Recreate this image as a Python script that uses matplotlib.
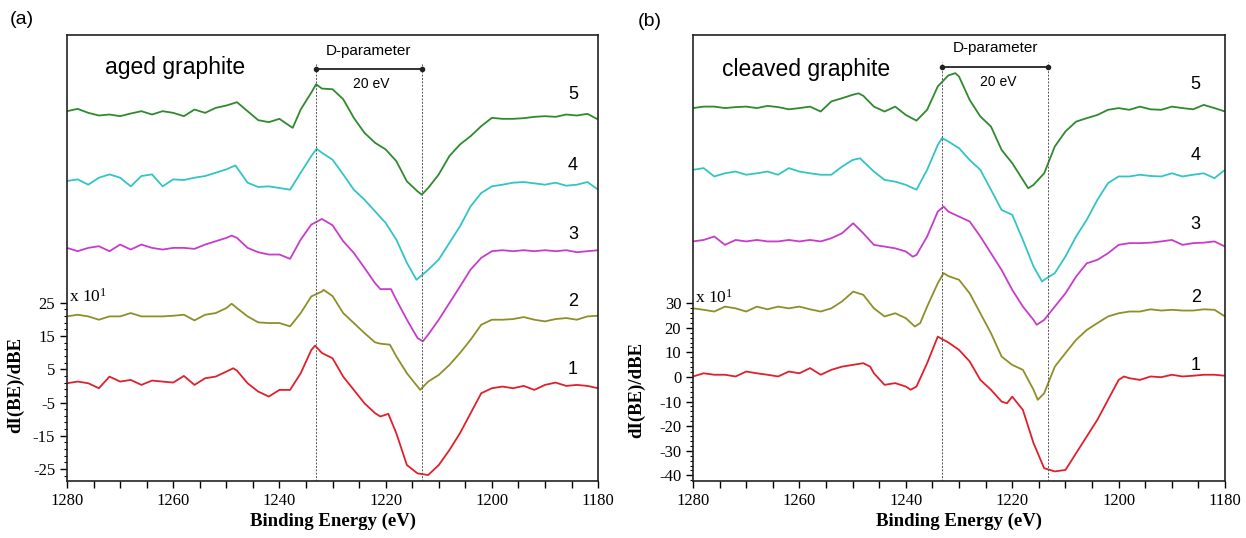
import matplotlib
matplotlib.use('Agg')
import matplotlib.pyplot as plt
from matplotlib.ticker import FixedLocator

plt.rcParams['mathtext.fontset'] = 'custom'
plt.rcParams['mathtext.rm'] = 'Liberation Serif'
plt.rcParams['mathtext.it'] = 'Liberation Serif:italic'
plt.rcParams['axes.unicode_minus'] = False

# ---------------- data: panel (a) aged graphite (values in units of 10^1) ----------------
a1_E = [1280, 1278, 1276, 1274, 1272, 1270, 1268, 1266, 1264, 1262, 1260, 1258, 1256, 1254, 1252, 1250, 1248.7, 1248,
        1246, 1244, 1242, 1240, 1238, 1236, 1234, 1233.3, 1232, 1230, 1228, 1226, 1224, 1222, 1221, 1219.5, 1218, 1216,
        1214, 1212, 1210, 1208, 1206, 1204, 1202, 1200, 1198, 1196, 1194, 1192, 1190, 1188, 1186, 1184, 1182, 1180]
a1_V = [0.8, 1.3, 0.8, -0.7, 2.8, 1.3, 1.8, 0.3, 1.6, 1.3, 1.0, 3.0, 0.3, 2.3, 2.8, 4.3, 5.3, 4.6,
        0.8, -1.7, -3.2, -1.2, -1.2, 3.8, 10.8, 12.1, 9.9, 8.3, 2.8, -1.2, -5.2, -8.2, -9.2, -8.4, -14.2, -23.8,
        -26.3, -26.8, -23.8, -19.3, -14.2, -8.2, -2.2, -0.7, -0.2, -0.7, 0.0, -1.2, 0.3, 1.0, 0.0, 0.3, 0.0, -0.7]

a2_E = [1280, 1278, 1276, 1274, 1272, 1270, 1268, 1266, 1264, 1262, 1260, 1258, 1256, 1254, 1252, 1250, 1249, 1248,
        1246, 1244, 1242, 1240, 1238, 1236, 1234, 1232, 1231.7, 1230, 1228, 1226, 1224, 1222, 1221, 1219.2, 1218, 1216,
        1214, 1213.5, 1212, 1210, 1208, 1206, 1204, 1202, 1200, 1198, 1196, 1194, 1192, 1190, 1188, 1186, 1184, 1182, 1180]
a2_V = [20.9, 21.4, 20.9, 19.9, 20.9, 20.9, 21.9, 20.9, 20.9, 20.9, 21.1, 21.4, 19.7, 21.4, 21.9, 23.4, 24.7, 23.4,
        20.9, 19.1, 18.9, 18.9, 17.9, 21.9, 26.9, 28.4, 28.9, 27.0, 21.9, 18.9, 15.9, 13.1, 12.7, 12.4, 8.9, 3.8,
        -0.2, -1.2, 1.3, 3.3, 6.3, 9.9, 13.9, 18.4, 19.9, 19.9, 20.1, 20.7, 19.9, 19.4, 20.1, 20.4, 19.9, 20.9, 21.1]

a3_E = [1280, 1278, 1276, 1274, 1272, 1270, 1268, 1266, 1264, 1262, 1260, 1258, 1256, 1254, 1252, 1250, 1249, 1248,
        1246, 1244, 1242, 1240, 1238, 1236, 1234, 1232, 1230, 1228, 1226, 1224, 1222, 1221, 1219, 1218, 1216,
        1214, 1213, 1212, 1210, 1208, 1206, 1204, 1202, 1200, 1198, 1196, 1194, 1192, 1190, 1188, 1186, 1184, 1182, 1180]
a3_V = [41.5, 40.5, 41.5, 42.0, 40.5, 42.5, 41.0, 42.5, 41.5, 41.0, 41.5, 41.5, 41.2, 42.5, 43.5, 44.5, 45.2, 44.5,
        41.5, 40.2, 39.5, 39.5, 38.2, 44.0, 48.5, 50.2, 48.3, 43.5, 40.0, 35.5, 30.9, 29.1, 29.1, 25.9, 19.9,
        14.4, 13.4, 15.4, 19.9, 24.9, 29.9, 35.0, 38.5, 40.5, 40.8, 40.5, 40.8, 40.5, 40.8, 40.5, 40.8, 40.2, 40.5, 40.8]

a4_E = [1280, 1278, 1276, 1274, 1272, 1270, 1268, 1266, 1264, 1262, 1260, 1258, 1256, 1254, 1252, 1250, 1248.3,
        1246, 1244, 1242, 1240, 1238, 1236, 1234, 1233, 1232, 1230, 1228, 1226, 1224, 1222, 1220, 1218, 1216,
        1214.2, 1212, 1210, 1208, 1206, 1204, 1202, 1200, 1198, 1196, 1194, 1192, 1190, 1188, 1186, 1184, 1182, 1180]
a4_V = [61.6, 62.1, 60.5, 62.6, 63.6, 62.6, 60.0, 63.1, 63.6, 60.0, 62.1, 61.9, 62.6, 63.1, 64.1, 65.1, 66.3,
        61.1, 59.8, 60.0, 59.5, 59.0, 64.1, 69.1, 71.3, 70.1, 68.0, 63.6, 59.0, 56.0, 52.5, 49.0, 44.0, 37.0,
        31.9, 34.9, 38.0, 43.0, 48.0, 54.0, 58.0, 60.0, 60.5, 61.1, 61.3, 60.9, 60.5, 61.1, 60.2, 60.5, 61.3, 59.0]

a5_E = [1280, 1278, 1276, 1274, 1272, 1270, 1268, 1266, 1264, 1262, 1260, 1258, 1256, 1254, 1252, 1250, 1248,
        1246, 1244, 1242, 1240, 1238, 1237.5, 1236, 1234, 1233.1, 1232, 1230, 1228, 1226, 1224, 1222, 1220, 1218,
        1216, 1214, 1213.2, 1212, 1210, 1208, 1206, 1204, 1202, 1200, 1198, 1196, 1194, 1192, 1190, 1188, 1186,
        1184, 1182, 1180]
a5_V = [82.6, 83.3, 82.1, 81.3, 81.6, 81.1, 81.9, 82.6, 81.6, 82.6, 82.1, 81.1, 83.1, 82.1, 83.6, 84.3, 85.3,
        82.6, 79.9, 79.3, 80.3, 78.1, 77.6, 83.1, 88.2, 90.7, 89.4, 89.2, 86.2, 80.6, 76.1, 73.1, 71.1, 67.6,
        61.5, 58.5, 57.5, 59.5, 63.6, 69.1, 72.6, 75.1, 78.1, 80.6, 80.3, 80.3, 80.5, 80.9, 81.1, 80.9, 81.6,
        81.3, 81.8, 80.1]

# ---------------- data: panel (b) cleaved graphite ----------------
b1_E = [1280, 1278, 1276, 1274, 1272, 1270, 1268, 1266, 1264, 1262, 1260, 1258, 1256, 1254, 1252, 1250, 1248,
        1246.7, 1246, 1244, 1242, 1240, 1239.1, 1238, 1236, 1234, 1232, 1230, 1228, 1226, 1224, 1222, 1221, 1220,
        1218, 1216, 1214, 1212, 1210, 1208, 1206, 1204, 1202, 1200, 1199, 1198, 1196, 1194, 1192, 1190, 1188,
        1186, 1184, 1182, 1180]
b1_V = [0.2, 1.5, 0.9, 0.9, 0.2, 2.2, 1.5, 0.9, 0.2, 2.2, 1.5, 3.6, 0.9, 2.9, 4.2, 4.9, 5.6,
        4.2, 1.5, -3.2, -2.5, -3.9, -5.2, -3.9, 5.6, 16.4, 14.0, 11.0, 6.3, -1.2, -5.2, -10.0, -10.7, -8.0,
        -13.4, -26.9, -37.1, -38.4, -37.8, -31.0, -24.2, -17.4, -9.3, -1.2, 0.2, -0.5, -1.2, 0.2, -0.1, 0.9, 0.2,
        0.5, 0.9, 0.9, 0.5]

b2_E = [1280, 1278, 1276, 1274, 1272, 1270, 1268, 1266, 1264, 1262, 1260, 1258, 1256, 1254, 1252, 1249.9, 1248,
        1246, 1244, 1242, 1240, 1238.3, 1237.3, 1236, 1234, 1232.9, 1232, 1230, 1228, 1226, 1224, 1222, 1220,
        1218, 1216, 1215.2, 1214, 1212, 1210, 1208, 1206, 1204, 1202, 1200, 1198, 1196, 1194, 1192, 1190, 1188,
        1186, 1184, 1182, 1180]
b2_V = [27.9, 27.3, 26.6, 28.6, 27.9, 26.6, 28.6, 27.5, 28.6, 27.9, 28.6, 27.5, 26.6, 27.9, 30.7, 34.7, 33.4,
        27.9, 24.6, 25.9, 23.9, 20.5, 21.9, 28.6, 38.1, 42.2, 41.0, 39.5, 34.0, 25.9, 17.8, 8.3, 4.9,
        2.9, -5.2, -9.3, -6.6, 4.2, 9.7, 15.1, 19.1, 21.9, 24.6, 25.9, 26.6, 26.6, 27.5, 27.0, 27.3, 27.0,
        27.0, 27.5, 27.3, 24.6]

b3_E = [1280, 1278, 1276, 1274, 1272, 1270, 1268, 1266, 1264, 1262, 1260, 1258, 1256, 1254, 1252, 1249.9, 1248,
        1246, 1244, 1242, 1240, 1238.7, 1238, 1236, 1234, 1232.9, 1232, 1230, 1228, 1226, 1224, 1222, 1220,
        1218, 1216, 1215.4, 1214, 1212, 1210, 1208, 1206, 1204, 1202, 1200, 1198, 1196, 1194, 1192, 1190, 1188,
        1186, 1184, 1182, 1180]
b3_V = [55.1, 55.7, 57.1, 53.7, 55.7, 55.1, 55.7, 55.1, 55.1, 55.7, 55.1, 55.7, 55.1, 56.4, 58.4, 62.5, 58.4,
        53.7, 53.0, 52.3, 51.0, 48.9, 49.6, 57.1, 67.2, 69.3, 67.2, 65.2, 63.2, 57.1, 50.3, 43.5, 35.4,
        28.6, 23.2, 21.2, 23.2, 28.6, 34.0, 40.8, 46.2, 47.6, 50.3, 53.7, 54.4, 54.4, 54.6, 55.1, 55.7, 53.7,
        54.4, 54.6, 55.1, 53.0]

b4_E = [1280, 1278, 1276, 1274, 1272, 1270, 1268, 1266, 1264, 1262, 1260, 1258, 1256, 1254, 1252, 1250, 1248.6,
        1248, 1246, 1244, 1242, 1240, 1238, 1236, 1234, 1233.2, 1232, 1230, 1228, 1226, 1224, 1222, 1220, 1218,
        1216, 1214.4, 1214, 1212, 1210, 1208, 1206, 1204, 1202, 1200, 1198, 1196, 1194, 1192, 1190, 1188, 1186,
        1184, 1182, 1180]
b4_V = [84.2, 84.9, 81.5, 82.8, 83.5, 82.2, 82.8, 83.5, 82.2, 84.9, 83.5, 82.8, 82.2, 82.2, 85.5, 88.2, 88.9,
        87.6, 83.5, 80.1, 79.4, 78.1, 76.1, 84.2, 94.3, 97.1, 95.7, 93.0, 88.2, 84.2, 76.1, 67.9, 65.9, 55.7,
        44.9, 38.8, 39.5, 42.2, 49.0, 57.1, 63.9, 72.0, 78.8, 81.5, 81.5, 82.2, 81.7, 81.5, 82.8, 81.5, 82.2,
        82.8, 80.8, 84.2]

b5_E = [1280, 1278, 1276, 1274, 1272, 1270, 1268, 1266, 1264, 1262, 1260, 1258, 1256, 1254, 1252, 1250, 1248.9,
        1248, 1246, 1244, 1242, 1240, 1238, 1236, 1234, 1232, 1230.7, 1230, 1228, 1226, 1224, 1222, 1220, 1218,
        1217, 1216, 1214, 1212, 1210, 1208, 1206, 1204, 1202, 1200, 1198, 1196, 1194, 1192, 1190, 1188, 1186,
        1184, 1182, 1180]
b5_V = [109.3, 109.9, 109.9, 109.3, 109.7, 109.9, 109.3, 110.2, 109.7, 108.8, 109.3, 109.9, 107.9, 112.0, 113.3,
        114.7, 115.3, 114.3, 109.9, 107.9, 109.9, 106.5, 104.2, 108.6, 118.1, 122.6, 123.5, 122.1, 112.6, 105.9,
        101.8, 92.3, 86.9, 80.1, 76.7, 78.1, 82.8, 93.7, 99.8, 103.8, 105.2, 106.5, 108.6, 109.3, 108.6, 109.9,
        108.8, 108.6, 109.9, 109.3, 108.8, 110.6, 109.3, 107.9]

curve_labels = ['1', '2', '3', '4', '5']
colors = ['#e0202c', '#8f8f2a', '#c83ccc', '#33c4c4', '#2f8a2f']
x_ticks = [1280, 1260, 1240, 1220, 1200, 1180]
a_yticks = [-25, -15, -5, 5, 15, 25]
b_yticks = [-40, -30, -20, -10, 0, 10, 20, 30]
d_edges = [1233.2, 1213.2]

serif = 'Liberation Serif'
sans = 'Liberation Sans'

fig = plt.figure(figsize=(12.46, 5.38), dpi=100)
axA = fig.add_axes([0.0538, 0.1059, 0.4262, 0.8290])
axB = fig.add_axes([0.5562, 0.1059, 0.4270, 0.8290])


def draw_panel(ax, Es, Vs, ylim, yticks, yminor, title, title_xy, lab_E, lab_V,
               dpar_y, dpar_text_y, ev_text_y, dash_top, x10_y, ylab_coords):
    for E, V, c in zip(Es, Vs, colors):
        ax.plot(E, V, color=c, lw=1.3, solid_joinstyle='round')
    ax.set_xlim(1280, 1180)
    ax.set_ylim(*ylim)
    ax.set_xticks(x_ticks)
    ax.xaxis.set_minor_locator(FixedLocator([v for v in range(1180, 1281, 5) if v % 20 != 0]))
    ax.set_yticks(yticks)
    ax.yaxis.set_minor_locator(FixedLocator(yminor))
    ax.tick_params(axis='both', which='major', direction='out', length=5, width=1,
                   labelsize=12)
    ax.tick_params(axis='x', which='minor', direction='out', length=5, width=1)
    ax.tick_params(axis='y', which='minor', direction='out', length=2.5, width=0.8)
    for lab in ax.get_xticklabels() + ax.get_yticklabels():
        lab.set_fontfamily(serif)
    for sp in ax.spines.values():
        sp.set_linewidth(1.2)
        sp.set_color('#222222')
    ax.set_xlabel('Binding Energy (eV)', fontfamily=serif, fontweight='bold', fontsize=13.5, labelpad=3)
    ax.set_ylabel('dI(BE)/dBE', fontfamily=serif, fontweight='bold', fontsize=13.5)
    ax.yaxis.set_label_coords(*ylab_coords)
    # dashed guides
    for e in d_edges:
        ax.plot([e, e], [ylim[0], dash_top], ls=(0, (2, 1.5)), color='#555555', lw=0.7)
    ax.plot(d_edges, [dpar_y, dpar_y], color='#222222', lw=1.3, marker='o', markersize=3)
    ax.text(sum(d_edges) / 2, dpar_text_y, 'D-parameter', fontfamily=sans, fontsize=11,
            ha='center', va='center')
    ax.text(sum(d_edges) / 2 - 0.5, ev_text_y, '20 eV', fontfamily=sans, fontsize=10,
            ha='center', va='center')
    ax.text(title_xy[0], title_xy[1], title, fontfamily=sans, fontsize=16.5, ha='left', va='center')
    for lab, v in zip(curve_labels, lab_V):
        ax.text(lab_E, v, lab, fontfamily=sans, fontsize=13, ha='center', va='center')
    ax.text(1279.6, x10_y, r'x 10$^{1}$', fontfamily=serif, fontsize=12.5, ha='left', va='bottom')


draw_panel(axA, [a1_E, a2_E, a3_E, a4_E, a5_E], [a1_V, a2_V, a3_V, a4_V, a5_V],
           (-28.6, 105.5), a_yticks, list(range(-29, 26, 2)), 'aged graphite', (1272.8, 95.8),
           1184.7, [4.8, 25.3, 45.5, 66.3, 87.7], 95.2, 100.8, 90.7, 97.0, 24.0, (-0.08, 0.215))

draw_panel(axB, [b1_E, b2_E, b3_E, b4_E, b5_E], [b1_V, b2_V, b3_V, b4_V, b5_V],
           (-42.3, 139.0), b_yticks, list(range(-42, 31, 2)), 'cleaved graphite', (1274.5, 124.8),
           1185.5, [4.5, 32.5, 61.8, 90.2, 118.7], 126.0, 133.6, 119.9, 128.0, 28.5, (-0.09, 0.205))

fig.text(10 / 1246, 1 - 20 / 538, '(a)', fontfamily=sans, fontsize=14, ha='left', va='center')
fig.text(638 / 1246, 1 - 22 / 538, '(b)', fontfamily=sans, fontsize=14, ha='left', va='center')

fig.savefig('out.png', dpi=100)
